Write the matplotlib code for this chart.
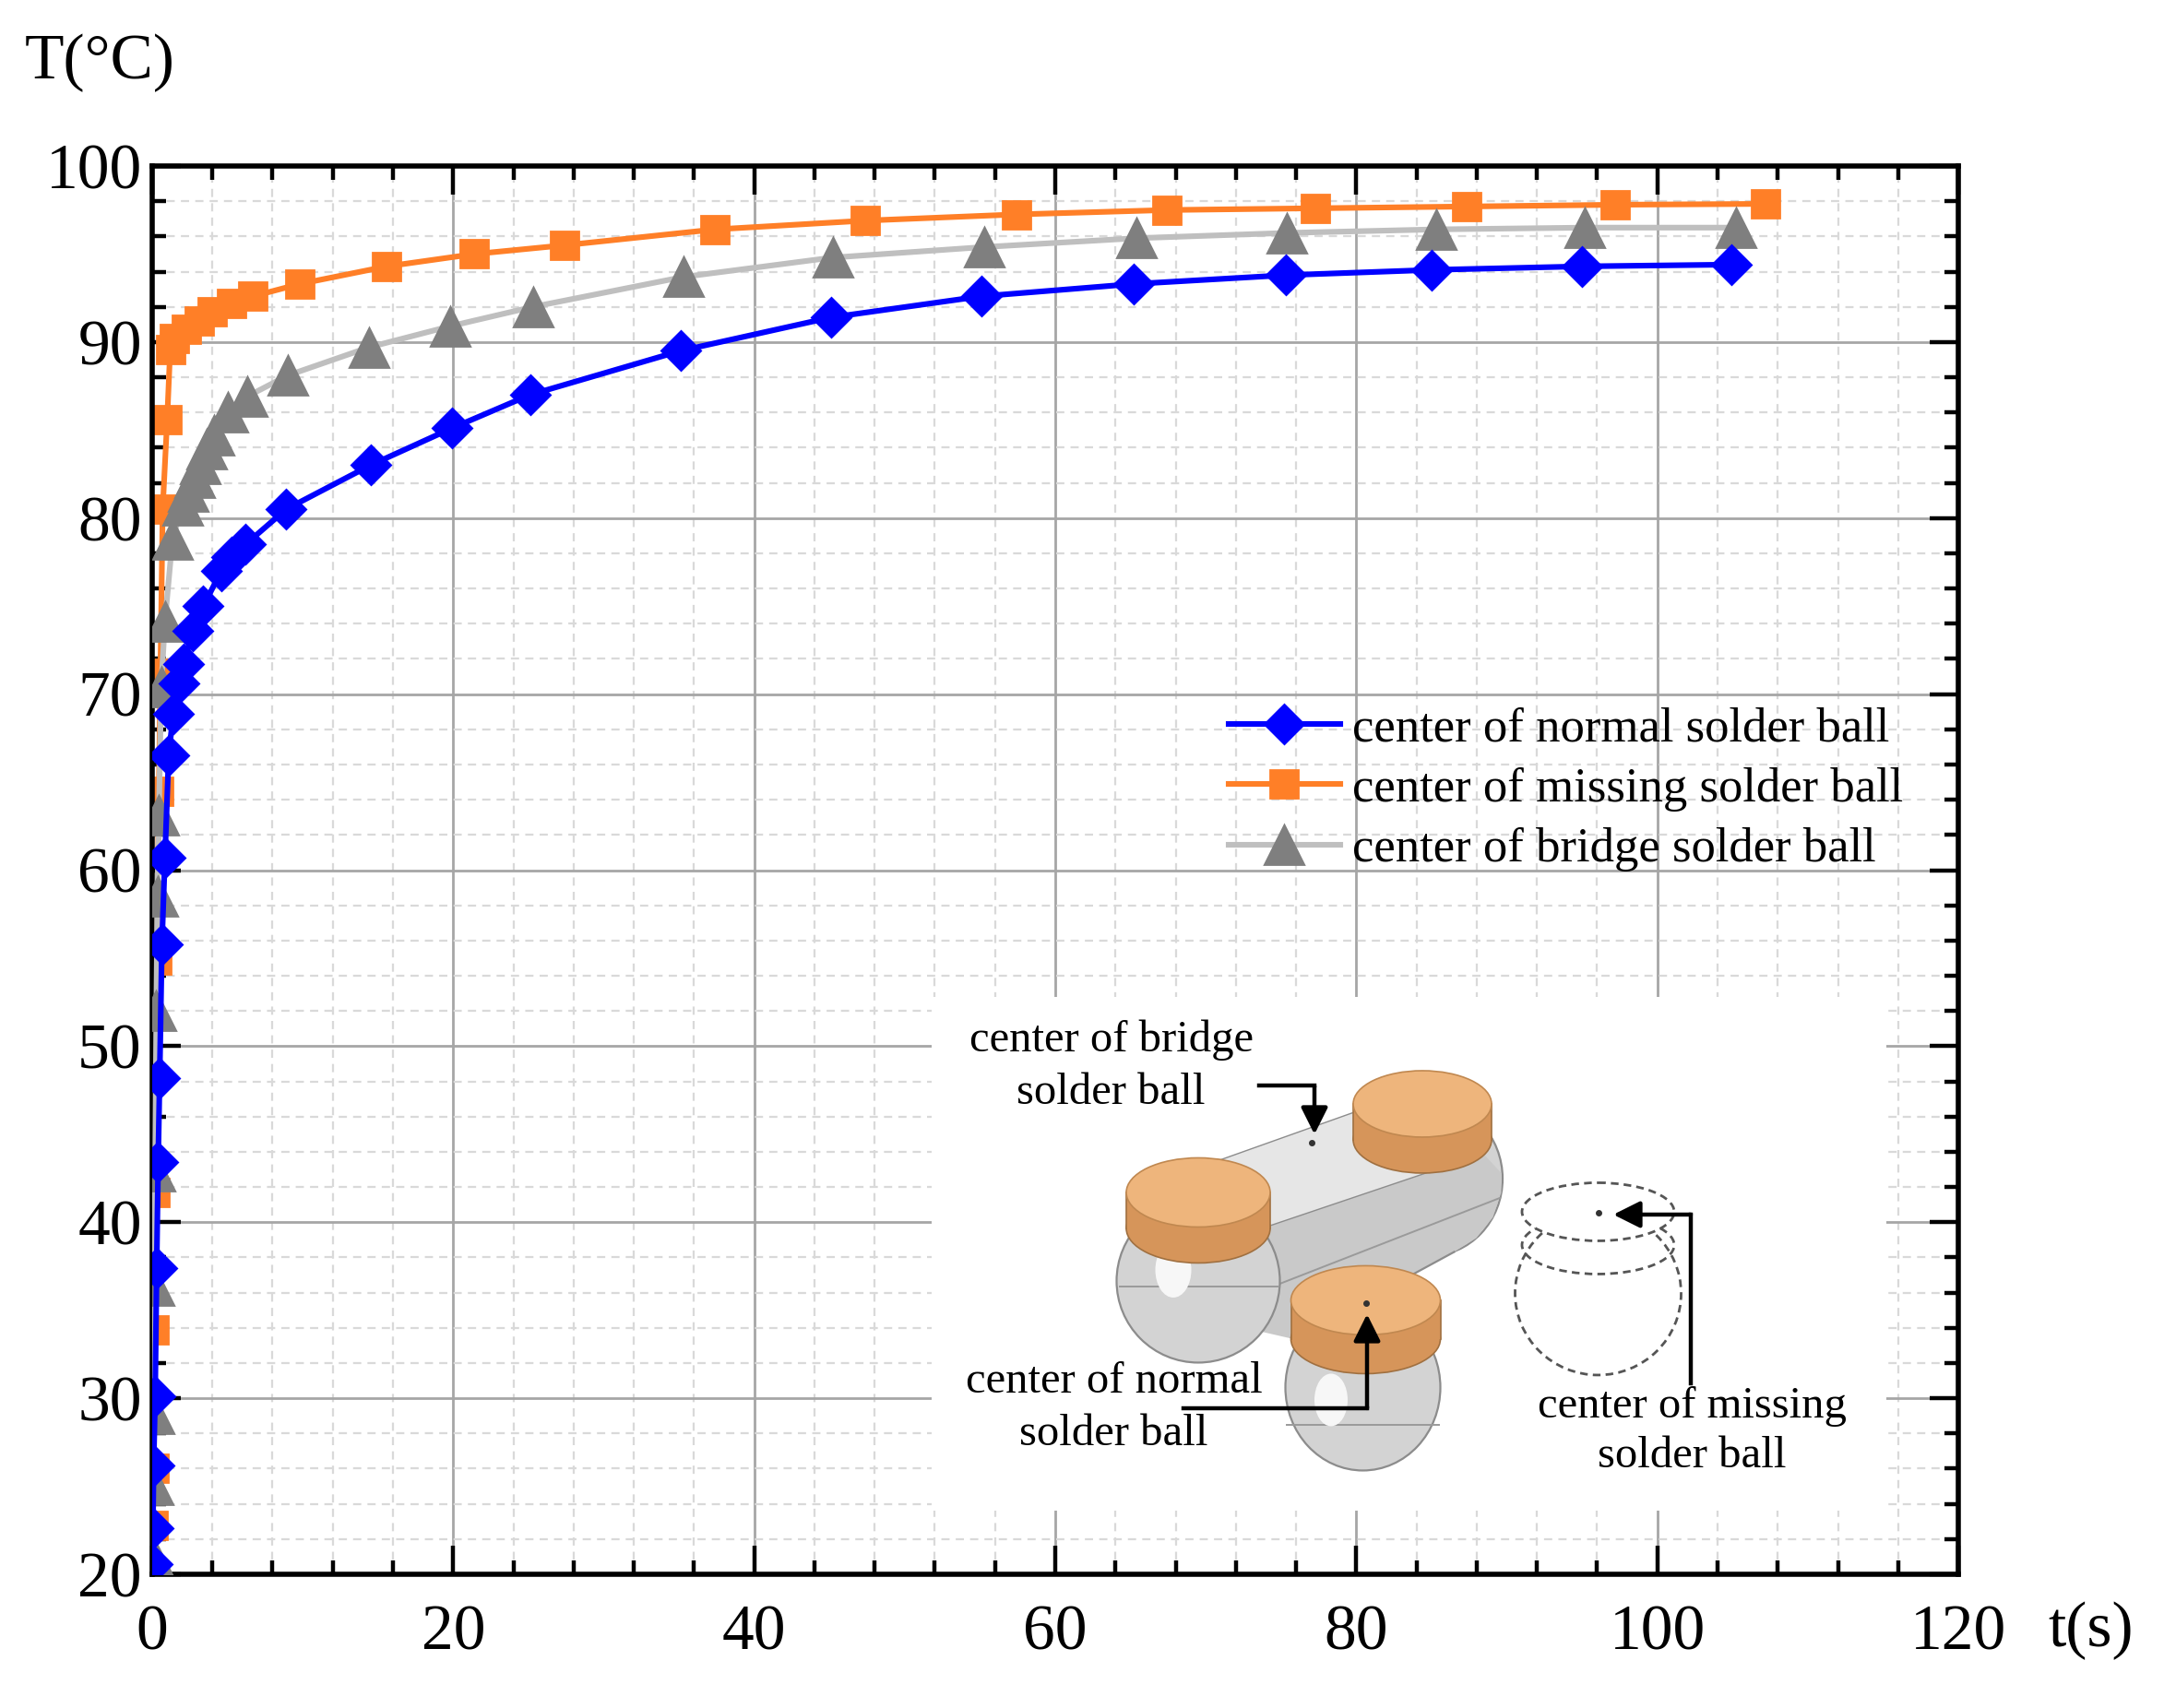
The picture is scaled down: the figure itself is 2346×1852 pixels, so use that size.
import numpy as np
import matplotlib
matplotlib.use("Agg")
import matplotlib.pyplot as plt
from matplotlib.patches import Ellipse, Polygon, Rectangle
from matplotlib.ticker import MultipleLocator

plt.rcParams['font.family'] = ['Liberation Serif', 'DejaVu Serif']

# ---- data ----
t_normal = [0.02, 0.05, 0.1, 0.2, 0.3, 0.4, 0.5, 0.65, 0.85, 1.1, 1.4, 1.8, 2.1, 2.7, 3.4,
            4.6, 5.3, 6.2, 8.9, 14.5, 19.9, 25.1, 35.1, 45.1, 55.1, 65.2, 75.3, 85.0, 95.0, 104.9]
T_normal = [20.6, 22.6, 26.2, 30.1, 37.4, 43.4, 48.2, 55.8, 60.7, 66.5, 68.9, 70.6, 71.7, 73.6, 75.0,
            77.0, 77.8, 78.5, 80.5, 83.0, 85.1, 87.0, 89.5, 91.4, 92.6, 93.3, 93.8, 94.1, 94.3, 94.4]

t_missing = [0.05, 0.1, 0.15, 0.2, 0.3, 0.45, 0.55, 0.7, 1.0, 1.2, 1.5, 2.3, 3.1, 4.0, 5.3,
             6.7, 9.8, 15.6, 21.4, 27.4, 37.4, 47.4, 57.4, 67.4, 77.3, 87.3, 97.2, 107.2]
T_missing = [22.8, 26.0, 33.9, 41.7, 54.9, 64.5, 71.2, 80.5, 85.6, 89.6, 90.2, 90.75, 91.2, 91.7, 92.2,
             92.6, 93.3, 94.3, 95.0, 95.5, 96.4, 96.9, 97.25, 97.5, 97.6, 97.7, 97.8, 97.85]

t_bridge = [0.03, 0.06, 0.1, 0.15, 0.2, 0.28, 0.35, 0.45, 0.6, 0.85, 1.35, 2.0, 2.4, 2.8, 3.2,
            3.6, 4.1, 5.0, 6.3, 9.0, 14.4, 19.8, 25.3, 35.3, 45.2, 55.3, 65.4, 75.4, 85.3, 95.2, 105.2]
T_bridge = [21.1, 25.1, 29.1, 36.4, 42.9, 52.0, 58.5, 63.1, 70.4, 74.1, 78.8, 80.7, 81.5, 82.3, 83.1,
            83.9, 84.7, 86.0, 86.9, 88.1, 89.7, 90.9, 92.0, 93.7, 94.8, 95.4, 95.9, 96.2, 96.4, 96.5, 96.5]

labels = ["center of normal solder ball", "center of missing solder ball", "center of bridge solder ball"]

fig = plt.figure(figsize=(11.73, 9.26), dpi=200)
ax = fig.add_axes([0.0703, 0.0783, 0.8347, 0.8245])

ax.plot(t_normal, T_normal, color="#0000ff", lw=2.2, marker="D", ms=10.5, label=labels[0], zorder=3)
ax.plot(t_missing, T_missing, color="#ff7f27", lw=2.2, marker="s", ms=11, label=labels[1], zorder=2.4)
ax.plot(t_bridge, T_bridge, color="#bfbfbf", lw=2.2, marker="^", ms=15,
        mfc="#7f7f7f", mec="#7f7f7f", label=labels[2], zorder=2.6)

ax.set_xlim(0, 120)
ax.set_ylim(20, 100)
ax.xaxis.set_major_locator(MultipleLocator(20))
ax.xaxis.set_minor_locator(MultipleLocator(4))
ax.yaxis.set_major_locator(MultipleLocator(10))
ax.yaxis.set_minor_locator(MultipleLocator(2))
ax.set_axisbelow(True)
ax.grid(which="major", color="#a6a6a6", lw=1.0, ls="-")
ax.grid(which="minor", color="#d9d9d9", lw=0.8, ls=(0, (4, 3)))
ax.tick_params(which="both", direction="in", top=True, right=True, width=1.6, labelsize=25)
ax.tick_params(which="major", length=11)
ax.tick_params(which="minor", length=5.5)
ax.tick_params(axis="x", pad=12)
ax.tick_params(axis="y", pad=4)
for s in ax.spines.values():
    s.set_linewidth(2)

# white box behind the inset picture
ax.add_patch(Rectangle((51.8, 23.6), 63.4, 29.2, fc="white", ec="none", zorder=1))

leg = ax.legend(loc="upper left", bbox_to_anchor=(0.585, 0.63), frameon=False, fontsize=19,
                handlelength=2.3, handletextpad=0.25, labelspacing=0.33, borderaxespad=0)

fig.text(0.046, 0.963, "T(°C)", fontsize=25, ha="center", va="center")
fig.text(0.966, 0.045, "t(s)", fontsize=25, ha="center", va="center")

# ---- inset sketch of the solder balls (drawn in picture pixel space) ----
ov = fig.add_axes([0, 0, 1, 1], zorder=5)
ov.set_xlim(0, 1564)
ov.set_ylim(1234.7, 0)
ov.axis("off")
ov.patch.set_alpha(0)

ball_fc = "#d3d3d3"
ball_ec = "#8c8c8c"
cu_top = "#eeb57c"
cu_side = "#d6955a"
z = [1]


def nz():
    z[0] += 1
    return z[0]


def patch(p):
    p.set_zorder(nz())
    ov.add_patch(p)


def line(xs, ys, **kw):
    ov.plot(xs, ys, zorder=nz(), **kw)


def cap(cx, cy, w, h, band):
    patch(Ellipse((cx, cy + band), w, h, fc=cu_side, ec="#a07040", lw=0.6))
    patch(Rectangle((cx - w / 2, cy), w, band, fc=cu_side, ec="none"))
    line([cx - w / 2, cx - w / 2], [cy, cy + band], color="#a07040", lw=0.6)
    line([cx + w / 2, cx + w / 2], [cy, cy + band], color="#a07040", lw=0.6)
    patch(Ellipse((cx, cy), w, h, fc=cu_top, ec="#c08850", lw=0.6))


# bridge
patch(Ellipse((1033, 852), 106, 112, fc=ball_fc, ec=ball_ec, lw=0.8))
patch(Polygon([(915, 885), (1072, 834), (1085, 848), (1085, 862), (1079, 880), (1067, 895),
               (1051, 905), (935, 968), (900, 960)], fc="#c9c9c9", ec="none"))
patch(Polygon([(872, 842), (990, 800), (1072, 834), (915, 887)], fc="#e6e6e6", ec=ball_ec, lw=0.5))
line([925, 1084], [928, 866], color="#9a9a9a", lw=0.7)
line([935, 1051], [968, 905], color=ball_ec, lw=0.8)
patch(Ellipse((866, 926), 118, 118, fc=ball_fc, ec=ball_ec, lw=0.8))
line([809, 924], [930, 930], color="#9a9a9a", lw=0.7)
patch(Ellipse((848, 918), 26, 40, fc="#f7f7f7", ec="none"))
cap(866, 862, 104, 50, 26)
cap(1028, 798, 100, 48, 26)

# normal ball
patch(Ellipse((985, 1003), 112, 120, fc=ball_fc, ec=ball_ec, lw=0.8))
line([930, 1040], [1030, 1030], color="#9a9a9a", lw=0.7)
patch(Ellipse((962, 1012), 24, 38, fc="#f7f7f7", ec="none"))
cap(987, 940, 108, 50, 28)

# missing ball (dashed outline)
patch(Ellipse((1155, 935), 120, 118, fc="none", ec="#555555", lw=1.0, ls=(0, (3, 2))))
patch(Ellipse((1155, 900), 110, 42, fc="none", ec="#555555", lw=1.0, ls=(0, (3, 2))))
patch(Ellipse((1155, 876), 110, 42, fc="white", ec="#555555", lw=1.0, ls=(0, (3, 2))))

# centre points
line([948, 987, 1155], [826, 942, 877], ls="none", marker="o", color="#333333", ms=1.5)

arrow_kw = dict(arrowstyle="-|>", color="black", lw=1.6, mutation_scale=22, shrinkA=0, shrinkB=0)
line([910, 950], [785, 785], color="black", lw=1.6)
ov.annotate("", xy=(950, 820), xytext=(950, 785), arrowprops=arrow_kw, zorder=nz())
line([855, 988], [1018, 1018], color="black", lw=1.6)
ov.annotate("", xy=(988, 950), xytext=(988, 1018), arrowprops=arrow_kw, zorder=nz())
line([1222, 1222], [1000, 878], color="black", lw=1.6)
ov.annotate("", xy=(1166, 878), xytext=(1222, 878), arrowprops=arrow_kw, zorder=nz())

txt_kw = dict(fontsize=17.5, ha="center", va="center", zorder=nz())
ov.text(803, 752, "center of bridge", **txt_kw)
ov.text(803, 790, "solder ball", **txt_kw)
ov.text(805, 999, "center of normal", **txt_kw)
ov.text(805, 1037, "solder ball", **txt_kw)
ov.text(1223, 1017, "center of missing", **txt_kw)
ov.text(1223, 1053, "solder ball", **txt_kw)

fig.savefig("out.png", dpi=200)
